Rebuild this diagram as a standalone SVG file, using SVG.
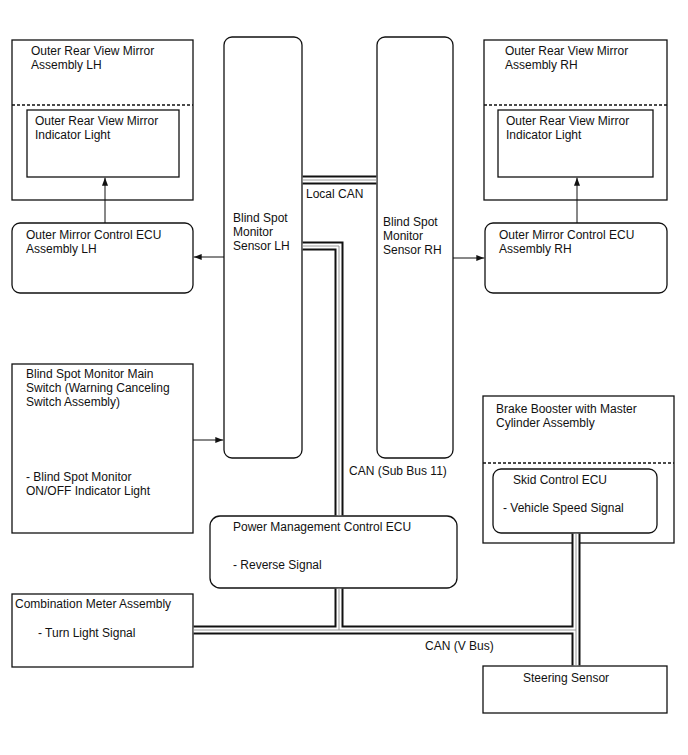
<svg xmlns="http://www.w3.org/2000/svg" width="688" height="755" viewBox="0 0 688 755">
<style>
text{font-family:"Liberation Sans",Arial,sans-serif;font-size:12px;fill:#111}
.box{fill:#fff;stroke:#111;stroke-width:1.3}
.dash{fill:none;stroke:#111;stroke-width:1.3;stroke-dasharray:3 2}
.arrow{fill:none;stroke:#111;stroke-width:1}
.b1{fill:none;stroke:#111;stroke-width:9}
.b2{fill:none;stroke:#fff;stroke-width:5}
.b3{fill:none;stroke:#999;stroke-width:1}
</style>
<defs>
<marker id="ah" markerUnits="userSpaceOnUse" markerWidth="8" markerHeight="6" refX="8" refY="3" orient="auto"><path d="M0,0 L8,3 L0,6 z" fill="#111"/></marker>
<path id="bus1" d="M302.7,180 H376.3"/>
<path id="bus2" d="M302.7,246 H339 V515.3"/>
<path id="bus3" d="M339,588.7 V630"/>
<path id="bus4" d="M193.7,630 H576"/>
<path id="bus5" d="M576,533.7 V665.3"/>
</defs>
<g id="mirrorLH">
<rect class="box" x="12" y="40" width="181" height="160"/>
<line class="dash" x1="12" y1="105" x2="193" y2="105"/>
<text x="31" y="55">Outer Rear View Mirror</text>
<text x="31" y="69">Assembly LH</text>
</g>
<g id="indicatorLH">
<rect class="box" x="27" y="110" width="152" height="67"/>
<text x="35" y="125">Outer Rear View Mirror</text>
<text x="35" y="139">Indicator Light</text>
</g>
<g id="ecuLH">
<rect class="box" x="12" y="223" width="181" height="70" rx="8"/>
<text x="26" y="239">Outer Mirror Control ECU</text>
<text x="26" y="253">Assembly LH</text>
</g>
<g id="sensorLH">
<rect class="box" x="224" y="37" width="78" height="421" rx="8"/>
<text x="233" y="222">Blind Spot</text>
<text x="233" y="236">Monitor</text>
<text x="233" y="250">Sensor LH</text>
</g>
<g id="sensorRH">
<rect class="box" x="377" y="37" width="76" height="421" rx="8"/>
<text x="383" y="226">Blind Spot</text>
<text x="383" y="240">Monitor</text>
<text x="383" y="254">Sensor RH</text>
</g>
<g id="mirrorRH">
<rect class="box" x="484" y="40" width="183" height="160"/>
<line class="dash" x1="484" y1="105" x2="667" y2="105"/>
<text x="505" y="55">Outer Rear View Mirror</text>
<text x="505" y="69">Assembly RH</text>
</g>
<g id="indicatorRH">
<rect class="box" x="498" y="110" width="155" height="67"/>
<text x="506" y="125">Outer Rear View Mirror</text>
<text x="506" y="139">Indicator Light</text>
</g>
<g id="ecuRH">
<rect class="box" x="485" y="223" width="182" height="70" rx="8"/>
<text x="499" y="239">Outer Mirror Control ECU</text>
<text x="499" y="253">Assembly RH</text>
</g>
<g id="mainSwitch">
<rect class="box" x="12" y="364" width="181" height="169"/>
<text x="26" y="378">Blind Spot Monitor Main</text>
<text x="26" y="392">Switch (Warning Canceling</text>
<text x="26" y="406">Switch Assembly)</text>
<text x="26" y="481">- Blind Spot Monitor</text>
<text x="26" y="495">ON/OFF Indicator Light</text>
</g>
<g id="pmcEcu">
<rect class="box" x="210" y="516" width="247" height="72" rx="10"/>
<text x="233" y="531">Power Management Control ECU</text>
<text x="233" y="569">- Reverse Signal</text>
</g>
<g id="brakeBooster">
<rect class="box" x="483" y="396" width="191" height="147"/>
<line class="dash" x1="483" y1="463" x2="674" y2="463"/>
<text x="496" y="413">Brake Booster with Master</text>
<text x="496" y="427">Cylinder Assembly</text>
</g>
<g id="skidEcu">
<rect class="box" x="493" y="469" width="164" height="64" rx="8"/>
<text x="513" y="484">Skid Control ECU</text>
<text x="503" y="512">- Vehicle Speed Signal</text>
</g>
<g id="combinationMeter">
<rect class="box" x="12" y="594" width="181" height="73"/>
<text x="15" y="608">Combination Meter Assembly</text>
<text x="38" y="637">- Turn Light Signal</text>
</g>
<g id="steeringSensor">
<rect class="box" x="483" y="666" width="184" height="47"/>
<text x="523" y="682">Steering Sensor</text>
</g>
<g id="connectors">
<use href="#bus1" class="b1"/><use href="#bus2" class="b1"/><use href="#bus3" class="b1"/><use href="#bus4" class="b1"/><use href="#bus5" class="b1"/>
<use href="#bus1" class="b2"/><use href="#bus2" class="b2"/><use href="#bus3" class="b2"/><use href="#bus4" class="b2"/><use href="#bus5" class="b2"/>
<use href="#bus1" class="b3"/><use href="#bus2" class="b3"/><use href="#bus3" class="b3"/><use href="#bus4" class="b3"/><use href="#bus5" class="b3"/>
<path class="arrow" d="M105,223 V177.7" marker-end="url(#ah)"/>
<path class="arrow" d="M577,223 V177.7" marker-end="url(#ah)"/>
<path class="arrow" d="M224,257 H193.7" marker-end="url(#ah)"/>
<path class="arrow" d="M453,258 H484.3" marker-end="url(#ah)"/>
<path class="arrow" d="M193,440 H223.3" marker-end="url(#ah)"/>
<text x="306" y="198">Local CAN</text>
<text x="349" y="475">CAN (Sub Bus 11)</text>
<text x="425" y="650">CAN (V Bus)</text>
</g>
</svg>
